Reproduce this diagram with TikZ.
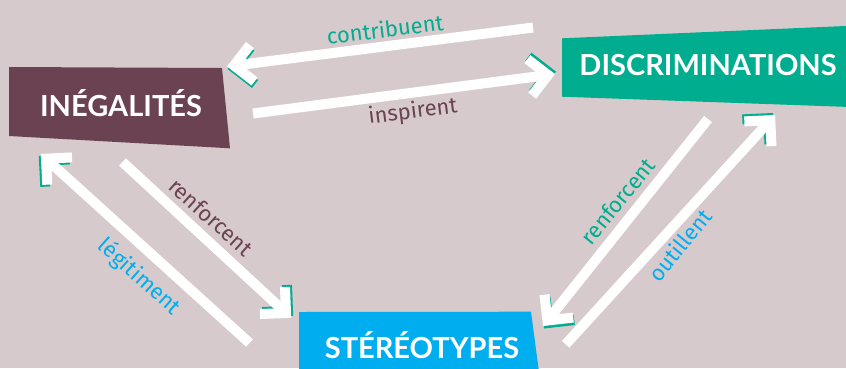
\documentclass[tikz,border=0pt]{standalone}
\usepackage{fontspec}
\setmainfont{Fira Sans}
\newfontfamily\boxfont{Lato}
\usetikzlibrary{calc}
\definecolor{bg}{RGB}{214,202,205}
\definecolor{maroon}{RGB}{107,66,82}
\definecolor{vert}{RGB}{0,173,142}
\definecolor{bleu}{RGB}{0,174,239}
\newcommand{\chevshadow}[4]{%
  \begin{scope}[transform canvas={shift={(#3,#4)}}]
    \draw[chevg] ($(#1)!26pt!45:(#2)$) -- (#1) -- ($(#1)!26pt!-45:(#2)$);
  \end{scope}}
\newcommand{\chevwhite}[2]{%
  \draw[chevw] ($(#1)!26pt!45:(#2)$) -- (#1) -- ($(#1)!26pt!-45:(#2)$);}
\begin{document}
\begin{tikzpicture}[x=1pt,y=-1pt,
  boxtext/.style={text=white,font=\boxfont\bfseries\fontsize{29}{29}\selectfont,anchor=base,inner sep=0pt},
  lab/.style={font=\fontsize{22}{22}\selectfont,inner sep=0pt},
  shaft/.style={draw=white,line width=10pt,line cap=butt},
  chevw/.style={draw=white,line width=10pt,line join=miter,line cap=butt},
  chevg/.style={draw=vert,line width=10pt,line join=miter,line cap=butt}]
\fill[bg] (0,0) rectangle (846,368);
\useasboundingbox (0,0) rectangle (846,368);
% boxes
\fill[maroon] (9,67) -- (222,68) -- (230,148.3) -- (9,136) -- cycle;
\fill[vert] (562,38.3) -- (850,25.8) -- (850,107) -- (562,96.7) -- cycle;
\fill[bleu] (299,312) -- (531,311.7) -- (539,372) -- (299,372) -- cycle;
\node[boxtext] (ineg) at (121,116.5) {INÉGALITÉS};
\node[boxtext] (disc) at (708,75) {DISCRIMINATIONS};
\node[boxtext] (ster) at (422,358) {STÉRÉOTYPES};
% arrow coordinates
\coordinate (t1) at (533,27.5);  \coordinate (c1) at (234,65.6);
\coordinate (t2) at (253,113.5); \coordinate (c2) at (548,75);
\coordinate (t3) at (122.5,162); \coordinate (c3) at (286,313);
\coordinate (t4) at (249.5,343); \coordinate (c4) at (46,158.7);
\coordinate (t5) at (708,119);   \coordinate (c5) at (547.4,320.5);
\coordinate (t6) at (565.7,344.3); \coordinate (c6) at (770.3,120.2);
% shadows
\chevshadow{c1}{t1}{0.5}{2.5}
\chevshadow{c2}{t2}{1}{-2.5}
\chevshadow{c3}{t3}{2}{-2}
\chevshadow{c4}{t4}{-2}{2}
\chevshadow{c5}{t5}{1}{2.5}
\chevshadow{c6}{t6}{-2}{-2}
% shafts
\draw[shaft] (t1) -- (c1);
\draw[shaft] (t2) -- (c2);
\draw[shaft] (t3) -- (c3);
\draw[shaft] (t4) -- (c4);
\draw[shaft] (t5) -- (c5);
\draw[shaft] (t6) -- (c6);
% heads
\chevwhite{c1}{t1}
\chevwhite{c2}{t2}
\chevwhite{c3}{t3}
\chevwhite{c4}{t4}
\chevwhite{c5}{t5}
\chevwhite{c6}{t6}
% labels
\node[lab,text=vert,rotate=7.2] (l1) at (385,29) {contribuent};
\node[lab,text=maroon,rotate=7.2] (l2) at (413,112) {inspirent};
\node[lab,text=maroon,rotate=-42] (l3) at (211,217) {renforcent};
\node[lab,text=bleu,rotate=-42] (l4) at (139,277) {légitiment};
\node[lab,text=vert,rotate=51] (l5) at (618,201) {renforcent};
\node[lab,text=bleu,rotate=51] (l6) at (680,245) {outillent};
\end{tikzpicture}
\end{document}
